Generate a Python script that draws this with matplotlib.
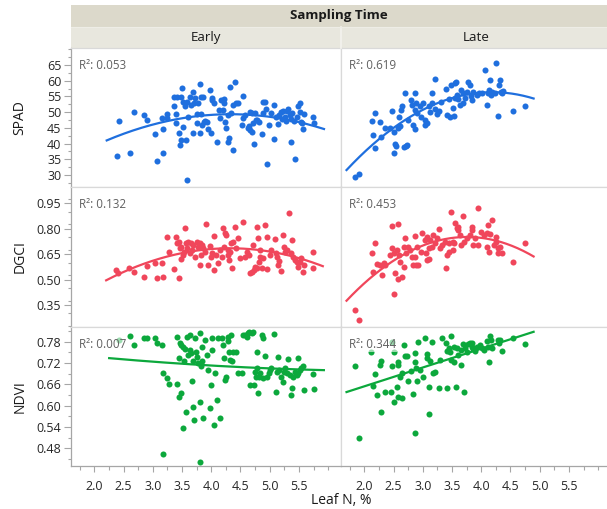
import numpy as np
import matplotlib
matplotlib.use("Agg")
import matplotlib.pyplot as plt
from matplotlib.patches import Rectangle
from matplotlib.lines import Line2D
from matplotlib.ticker import FixedLocator, MultipleLocator, FormatStrFormatter

plt.rcParams['font.family'] = ['Open Sans', 'DejaVu Sans']

# ---------------- data ----------------
sampling_times = ["Early", "Late"]
responses = ["SPAD", "DGCI", "NDVI"]

spad_early = [
    (2.38, 35.9), (2.42, 47.3), (2.61, 37.1), (2.68, 50.1), (2.85, 49.0), (2.90, 47.5), (3.03, 43.0),
    (3.08, 34.5), (3.17, 37.0), (3.17, 44.8), (3.15, 48.0), (3.24, 49.4), (3.25, 48.0), (3.36, 52.0),
    (3.37, 54.7), (3.40, 49.4), (3.40, 46.7), (3.42, 54.9), (3.45, 43.3), (3.47, 39.6), (3.48, 41.2),
    (3.49, 54.9), (3.50, 57.6), (3.51, 45.4), (3.52, 53.1), (3.55, 51.8), (3.57, 41.2), (3.58, 53.3),
    (3.59, 28.4), (3.61, 48.6), (3.63, 54.9), (3.65, 52.3), (3.68, 56.5), (3.69, 43.3), (3.71, 52.8),
    (3.73, 54.4), (3.75, 46.5), (3.76, 49.4), (3.78, 52.8), (3.80, 43.5), (3.81, 58.9), (3.82, 54.9),
    (3.83, 49.4), (3.85, 45.9), (3.86, 54.9), (3.88, 47.0), (3.89, 47.3), (3.93, 47.0), (3.95, 44.5),
    (3.98, 57.0), (3.99, 43.5), (4.01, 53.9), (4.02, 54.4), (4.05, 53.0), (4.10, 40.6), (4.13, 50.7),
    (4.15, 48.0), (4.17, 53.9), (4.20, 50.7), (4.21, 52.8), (4.22, 54.1), (4.24, 47.0), (4.26, 44.9),
    (4.28, 49.0), (4.29, 40.6), (4.30, 41.7), (4.32, 58.1), (4.34, 49.6), (4.37, 52.3), (4.38, 38.0),
    (4.41, 59.7), (4.42, 52.8), (4.45, 52.8), (4.52, 45.9), (4.54, 55.1), (4.55, 48.3), (4.58, 49.0),
    (4.63, 44.9), (4.65, 45.6), (4.66, 44.3), (4.67, 50.2), (4.69, 49.6), (4.70, 43.8), (4.71, 46.7),
    (4.73, 39.8), (4.75, 49.8), (4.76, 47.5), (4.79, 47.5), (4.82, 47.0), (4.86, 43.0), (4.88, 53.3),
    (4.89, 49.6), (4.92, 53.3), (4.94, 50.9), (4.96, 33.4), (4.99, 45.9), (5.03, 49.6), (5.07, 52.3),
    (5.08, 41.6), (5.10, 48.6), (5.14, 46.1), (5.16, 49.2), (5.19, 50.2), (5.21, 47.7), (5.23, 50.5),
    (5.26, 48.6), (5.28, 47.3), (5.30, 50.3), (5.32, 50.9), (5.35, 49.2), (5.36, 47.9), (5.37, 40.6),
    (5.39, 49.8), (5.42, 47.3), (5.43, 35.2), (5.46, 48.6), (5.49, 51.8), (5.51, 52.8), (5.52, 50.2),
    (5.53, 47.0), (5.56, 46.5), (5.57, 44.5), (5.59, 49.4), (5.74, 48.6), (5.76, 46.5),
]

spad_late = [
    (1.84, 29.5), (1.90, 30.2), (2.15, 42.7), (2.19, 38.5), (2.18, 49.6), (2.13, 47.3), (2.27, 47.0),
    (2.28, 42.2), (2.35, 44.9), (2.44, 44.9), (2.47, 50.4), (2.50, 36.9), (2.51, 43.8), (2.53, 39.9),
    (2.54, 39.2), (2.58, 44.9), (2.61, 45.6), (2.62, 50.7), (2.59, 48.6), (2.64, 52.0), (2.68, 39.0),
    (2.71, 39.2), (2.70, 56.2), (2.73, 39.6), (2.75, 47.5), (2.80, 53.9), (2.82, 52.3), (2.84, 45.9),
    (2.86, 44.5), (2.87, 56.0), (2.87, 50.7), (2.88, 52.8), (2.90, 49.8), (2.95, 51.8), (2.97, 48.6),
    (3.01, 53.0), (3.03, 47.5), (3.04, 45.9), (3.07, 46.5), (3.10, 51.8), (3.12, 50.2), (3.15, 56.0),
    (3.16, 52.8), (3.20, 60.4), (3.21, 50.9), (3.24, 49.4), (3.27, 50.4), (3.31, 53.3), (3.41, 49.1),
    (3.39, 57.3), (3.44, 54.1), (3.47, 48.6), (3.48, 58.6), (3.51, 51.2), (3.53, 48.8), (3.55, 54.4),
    (3.55, 59.2), (3.56, 59.7), (3.58, 55.5), (3.61, 54.1), (3.64, 52.3), (3.66, 57.1), (3.69, 52.8),
    (3.69, 56.0), (3.72, 54.4), (3.75, 56.5), (3.78, 59.7), (3.81, 58.6), (3.82, 55.1), (3.84, 53.9),
    (3.86, 56.5), (3.92, 55.5), (3.96, 56.0), (4.01, 56.0), (4.06, 63.4), (4.09, 52.3), (4.12, 56.0),
    (4.13, 57.1), (4.15, 60.2), (4.17, 55.5), (4.18, 56.5), (4.23, 56.0), (4.26, 65.5), (4.29, 48.8),
    (4.30, 58.6), (4.32, 60.2), (4.33, 56.5), (4.35, 56.0), (4.38, 56.8), (4.55, 50.5), (4.75, 52.0),
]

dgci_early = [
    (2.37, 0.557), (2.41, 0.537), (2.60, 0.567), (2.68, 0.543), (2.85, 0.517), (2.90, 0.582), (3.03, 0.600),
    (3.07, 0.511), (3.17, 0.513), (3.16, 0.600), (3.24, 0.749), (3.27, 0.661), (3.37, 0.563), (3.40, 0.753),
    (3.41, 0.714), (3.44, 0.724), (3.45, 0.508), (3.47, 0.685), (3.48, 0.622), (3.49, 0.694), (3.51, 0.645),
    (3.55, 0.803), (3.53, 0.665), (3.57, 0.714), (3.59, 0.685), (3.61, 0.724), (3.63, 0.655), (3.65, 0.714),
    (3.67, 0.675), (3.69, 0.704), (3.72, 0.635), (3.75, 0.724), (3.78, 0.694), (3.80, 0.586), (3.81, 0.714),
    (3.82, 0.645), (3.84, 0.704), (3.86, 0.685), (3.89, 0.665), (3.91, 0.826), (3.95, 0.586), (3.97, 0.698),
    (3.99, 0.635), (4.01, 0.655), (4.04, 0.557), (4.05, 0.759), (4.08, 0.645), (4.12, 0.596), (4.15, 0.675),
    (4.18, 0.635), (4.20, 0.803), (4.22, 0.694), (4.24, 0.773), (4.26, 0.763), (4.28, 0.675), (4.29, 0.645),
    (4.31, 0.616), (4.32, 0.665), (4.33, 0.714), (4.35, 0.570), (4.38, 0.720), (4.41, 0.812), (4.42, 0.685),
    (4.46, 0.744), (4.50, 0.626), (4.54, 0.842), (4.58, 0.635), (4.62, 0.665), (4.65, 0.645), (4.67, 0.537),
    (4.69, 0.547), (4.71, 0.704), (4.73, 0.557), (4.75, 0.576), (4.78, 0.812), (4.79, 0.567), (4.80, 0.744),
    (4.82, 0.606), (4.83, 0.675), (4.84, 0.635), (4.86, 0.567), (4.89, 0.626), (4.92, 0.822), (4.95, 0.749),
    (4.96, 0.563), (5.00, 0.645), (5.03, 0.675), (5.09, 0.740), (5.11, 0.655), (5.13, 0.635), (5.15, 0.586),
    (5.16, 0.610), (5.19, 0.551), (5.22, 0.763), (5.24, 0.694), (5.26, 0.665), (5.29, 0.675), (5.33, 0.895),
    (5.36, 0.655), (5.38, 0.734), (5.40, 0.635), (5.43, 0.616), (5.46, 0.606), (5.49, 0.576), (5.52, 0.606),
    (5.54, 0.626), (5.57, 0.547), (5.59, 0.586), (5.74, 0.665), (5.74, 0.567),
]

dgci_late = [
    (1.84, 0.321), (1.91, 0.262), (2.13, 0.655), (2.18, 0.714), (2.15, 0.547), (2.21, 0.592), (2.27, 0.586),
    (2.30, 0.527), (2.33, 0.596), (2.35, 0.586), (2.44, 0.645), (2.47, 0.818), (2.48, 0.685), (2.50, 0.413),
    (2.51, 0.655), (2.53, 0.537), (2.55, 0.675), (2.57, 0.504), (2.58, 0.828), (2.59, 0.645), (2.61, 0.606),
    (2.64, 0.517), (2.67, 0.576), (2.68, 0.694), (2.70, 0.744), (2.71, 0.655), (2.75, 0.694), (2.78, 0.675),
    (2.82, 0.635), (2.84, 0.586), (2.86, 0.759), (2.87, 0.635), (2.88, 0.586), (2.90, 0.694), (2.92, 0.586),
    (2.97, 0.665), (2.99, 0.773), (3.03, 0.734), (3.05, 0.655), (3.07, 0.616), (3.08, 0.753), (3.10, 0.685),
    (3.11, 0.622), (3.12, 0.734), (3.15, 0.694), (3.18, 0.763), (3.20, 0.714), (3.24, 0.744), (3.27, 0.799),
    (3.29, 0.685), (3.32, 0.704), (3.38, 0.724), (3.40, 0.570), (3.41, 0.645), (3.44, 0.665), (3.45, 0.714),
    (3.48, 0.897), (3.51, 0.675), (3.52, 0.724), (3.54, 0.714), (3.55, 0.832), (3.58, 0.803), (3.60, 0.793),
    (3.61, 0.812), (3.64, 0.763), (3.66, 0.704), (3.69, 0.877), (3.71, 0.724), (3.75, 0.744), (3.81, 0.763),
    (3.84, 0.812), (3.85, 0.793), (3.86, 0.704), (3.89, 0.744), (3.95, 0.924), (3.95, 0.704), (4.00, 0.783),
    (4.04, 0.763), (4.09, 0.773), (4.09, 0.694), (4.12, 0.822), (4.14, 0.665), (4.15, 0.767), (4.18, 0.852),
    (4.21, 0.704), (4.25, 0.724), (4.26, 0.753), (4.28, 0.685), (4.29, 0.655), (4.32, 0.694), (4.35, 0.655),
    (4.55, 0.606), (4.75, 0.714),
]

ndvi_early = [
    (2.42, 0.785), (2.61, 0.796), (2.68, 0.769), (2.85, 0.789), (2.90, 0.791), (3.04, 0.791), (3.08, 0.775),
    (3.15, 0.771), (3.17, 0.691), (3.24, 0.677), (3.27, 0.660), (3.41, 0.794), (3.42, 0.660), (3.44, 0.625),
    (3.47, 0.775), (3.48, 0.769), (3.49, 0.634), (3.45, 0.733), (3.51, 0.766), (3.52, 0.536), (3.54, 0.726),
    (3.55, 0.759), (3.57, 0.583), (3.58, 0.794), (3.61, 0.742), (3.63, 0.799), (3.64, 0.757), (3.65, 0.747),
    (3.67, 0.669), (3.69, 0.597), (3.69, 0.724), (3.71, 0.559), (3.72, 0.789), (3.74, 0.752), (3.75, 0.738),
    (3.78, 0.719), (3.80, 0.803), (3.81, 0.611), (3.82, 0.710), (3.84, 0.724), (3.85, 0.766), (3.86, 0.564),
    (3.89, 0.785), (3.92, 0.742), (3.95, 0.700), (3.97, 0.592), (3.99, 0.658), (4.01, 0.757), (4.02, 0.789),
    (4.04, 0.545), (4.06, 0.691), (4.10, 0.616), (4.12, 0.789), (4.15, 0.564), (4.18, 0.789), (4.20, 0.771),
    (4.22, 0.733), (4.24, 0.672), (4.26, 0.681), (4.28, 0.794), (4.29, 0.782), (4.31, 0.752), (4.32, 0.728),
    (4.33, 0.799), (4.35, 0.724), (4.38, 0.752), (4.43, 0.752), (4.46, 0.691), (4.52, 0.691), (4.54, 0.799),
    (4.58, 0.799), (4.61, 0.794), (4.63, 0.803), (4.65, 0.808), (4.67, 0.658), (4.69, 0.803), (4.71, 0.808),
    (4.73, 0.658), (4.75, 0.695), (4.76, 0.681), (4.78, 0.752), (4.79, 0.705), (4.80, 0.634), (4.82, 0.681),
    (4.83, 0.691), (4.86, 0.799), (4.88, 0.791), (4.89, 0.677), (4.92, 0.740), (4.95, 0.681), (4.98, 0.691),
    (5.00, 0.700), (5.03, 0.705), (5.07, 0.801), (5.10, 0.639), (5.12, 0.695), (5.15, 0.738), (5.16, 0.700),
    (5.20, 0.681), (5.22, 0.667), (5.24, 0.695), (5.27, 0.705), (5.30, 0.691), (5.32, 0.730), (5.35, 0.686),
    (5.36, 0.630), (5.38, 0.650), (5.40, 0.681), (5.43, 0.695), (5.46, 0.686), (5.48, 0.733), (5.49, 0.691),
    (5.52, 0.700), (5.53, 0.705), (5.57, 0.710), (5.59, 0.644), (5.74, 0.688), (5.76, 0.647), (3.80, 0.442),
    (3.17, 0.465),
]

ndvi_late = [
    (1.84, 0.710), (1.90, 0.510), (2.11, 0.750), (2.15, 0.655), (2.18, 0.688), (2.21, 0.630), (2.27, 0.714),
    (2.29, 0.726), (2.29, 0.581), (2.35, 0.639), (2.46, 0.639), (2.47, 0.710), (2.48, 0.778), (2.50, 0.609),
    (2.51, 0.750), (2.55, 0.653), (2.57, 0.625), (2.57, 0.714), (2.58, 0.722), (2.61, 0.679), (2.64, 0.691),
    (2.64, 0.622), (2.68, 0.769), (2.70, 0.740), (2.73, 0.740), (2.75, 0.670), (2.80, 0.697), (2.84, 0.632),
    (2.86, 0.522), (2.87, 0.747), (2.87, 0.722), (2.88, 0.705), (2.90, 0.670), (2.92, 0.780), (2.95, 0.700),
    (3.01, 0.681), (3.04, 0.791), (3.07, 0.744), (3.08, 0.733), (3.10, 0.653), (3.11, 0.575), (3.12, 0.724),
    (3.16, 0.778), (3.18, 0.691), (3.21, 0.694), (3.27, 0.650), (3.29, 0.728), (3.32, 0.791), (3.39, 0.775),
    (3.41, 0.650), (3.41, 0.754), (3.44, 0.761), (3.47, 0.750), (3.48, 0.796), (3.49, 0.728), (3.53, 0.722),
    (3.54, 0.766), (3.56, 0.653), (3.58, 0.761), (3.61, 0.741), (3.65, 0.757), (3.66, 0.714), (3.68, 0.772),
    (3.71, 0.637), (3.72, 0.763), (3.75, 0.752), (3.78, 0.772), (3.81, 0.775), (3.84, 0.766), (3.85, 0.775),
    (3.86, 0.759), (3.89, 0.754), (3.92, 0.766), (3.98, 0.769), (4.01, 0.761), (4.05, 0.757), (4.09, 0.782),
    (4.11, 0.766), (4.13, 0.722), (4.15, 0.797), (4.17, 0.785), (4.19, 0.763), (4.28, 0.785), (4.30, 0.775),
    (4.32, 0.785), (4.35, 0.754), (4.55, 0.790), (4.75, 0.772),
]

panel_data = [
    [spad_early, spad_late],
    [dgci_early, dgci_late],
    [ndvi_early, ndvi_late],
]
r_squared = [
    ["0.053", "0.619"],
    ["0.132", "0.453"],
    ["0.007", "0.344"],
]
fit_degree = [
    [2, 2],
    [2, 2],
    [2, 1],
]

x_ticks = [2.0, 2.5, 3.0, 3.5, 4.0, 4.5, 5.0, 5.5]
y_ticks = [
    [30, 35, 40, 45, 50, 55, 60, 65],
    [0.35, 0.50, 0.65, 0.80, 0.95],
    [0.48, 0.54, 0.60, 0.66, 0.72, 0.78],
]
y_formats = ["%d", "%.2f", "%.2f"]
y_minor_step = [2.5, 0.075, 0.03]
y_limits = [(26.2, 70.4), (0.22, 1.046), (0.43, 0.821)]
x_limits = (1.60, 6.22)

row_colors = ["#1F6FDE", "#F0465B", "#0CA83C"]

# ---------------- layout (pixels) ----------------
W, H = 607, 509
fig = plt.figure(figsize=(W / 100, H / 100), dpi=100)
fig.patch.set_facecolor("white")

col_edges = [71, 341, 611]
row_edges = [48, 187, 327, 466]


def fig_rect(x0, y0, x1, y1):
    return [x0 / W, 1 - y1 / H, (x1 - x0) / W, (y1 - y0) / H]


grid_color = "#D9D9D9"
axis_color = "#A6A6A6"
tick_label_color = "#262626"

# header bands
header_top = Rectangle((71 / W, 1 - 27 / H), (W - 71) / W, 22 / H, transform=fig.transFigure,
                       facecolor="#DCD9CB", edgecolor="none", zorder=0)
fig.add_artist(header_top)
for j, name in enumerate(sampling_times):
    x0, x1 = col_edges[j], col_edges[j + 1]
    band = Rectangle((x0 / W, 1 - 48 / H), (x1 - x0) / W, 21 / H, transform=fig.transFigure,
                     facecolor="#E8E7DE", edgecolor="none", zorder=0)
    fig.add_artist(band)
    fig.text((x0 + x1) / 2 / W, 1 - 37.5 / H, name, ha="center", va="center",
             fontsize=9.6, color="#1a1a1a")
fig.add_artist(Line2D([341 / W, 341 / W], [1 - 48 / H, 1 - 27 / H], transform=fig.transFigure,
                      color="#F4F3EE", lw=1.2))
fig.add_artist(Line2D([71 / W, 1], [1 - 27 / H, 1 - 27 / H], transform=fig.transFigure,
                      color="#EEEDE6", lw=0.8))
fig.text((71 + 607) / 2 / W, 1 - 16 / H, "Sampling Time", ha="center", va="center",
         fontsize=9.6, fontweight="bold", color="#1a1a1a")

for i, resp in enumerate(responses):
    y0, y1 = row_edges[i], row_edges[i + 1]
    for j in range(2):
        x0, x1 = col_edges[j], col_edges[j + 1]
        ax = fig.add_axes(fig_rect(x0, y0, x1, y1))
        pts = np.array(panel_data[i][j])
        xs, ys = pts[:, 0], pts[:, 1]
        color = row_colors[i]

        ax.scatter(xs, ys, s=19, color=color, linewidths=0, zorder=3)

        coef = np.polyfit(xs, ys, fit_degree[i][j])
        span = xs.max() - xs.min()
        xf = np.linspace(xs.min() - 0.05 * span, xs.max() + 0.05 * span, 200)
        ax.plot(xf, np.polyval(coef, xf), color=color, lw=1.6, zorder=4)

        ax.text(0.031, 0.875, "R\u00b2: " + r_squared[i][j], transform=ax.transAxes,
                fontsize=8.4, color="#606060", ha="left", va="center", zorder=5,
                bbox=dict(facecolor="white", alpha=0.6, edgecolor="none", pad=0.5))

        ax.set_xlim(*x_limits)
        ax.set_ylim(*y_limits[i])

        for side in ["top", "right", "left", "bottom"]:
            ax.spines[side].set_color(grid_color)
            ax.spines[side].set_linewidth(0.9)

        ax.xaxis.set_major_locator(FixedLocator(x_ticks))
        ax.xaxis.set_minor_locator(MultipleLocator(0.25))
        ax.xaxis.set_major_formatter(FormatStrFormatter("%.1f"))
        ax.yaxis.set_major_locator(FixedLocator(y_ticks[i]))
        ax.yaxis.set_minor_locator(MultipleLocator(y_minor_step[i]))
        ax.yaxis.set_major_formatter(FormatStrFormatter(y_formats[i]))

        if j == 0:
            ax.spines["left"].set_color(axis_color)
            ax.tick_params(axis="y", which="major", direction="out", length=5, width=0.8,
                           color=axis_color, labelsize=9, labelcolor=tick_label_color, pad=2)
            ax.tick_params(axis="y", which="minor", direction="out", length=2.5, width=0.8,
                           color=axis_color)
        else:
            ax.tick_params(axis="y", which="both", left=False, labelleft=False)

        if i == 2:
            ax.spines["bottom"].set_color(axis_color)
            ax.tick_params(axis="x", which="major", direction="out", length=4, width=0.8,
                           color=axis_color, labelsize=9, labelcolor=tick_label_color, pad=6)
            ax.tick_params(axis="x", which="minor", direction="out", length=3, width=0.8,
                           color=axis_color)
        else:
            ax.tick_params(axis="x", which="both", bottom=False, labelbottom=False)

    fig.text(20 / W, 1 - (y0 + y1) / 2 / H, resp, rotation=90, ha="center", va="center",
             fontsize=10, color="#1a1a1a")

fig.text(341 / W, 1 - 500 / H, "Leaf N, %", ha="center", va="center", fontsize=10, color="#1a1a1a")

fig.savefig("out.png", dpi=100, facecolor="white")
